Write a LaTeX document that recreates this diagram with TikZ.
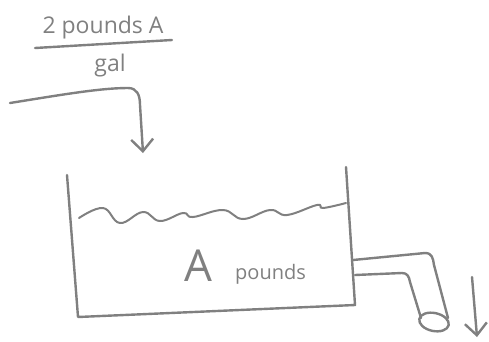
\documentclass[tikz,border=0pt]{standalone}
\usepackage{fontspec}
\setmainfont{Open Sans}
\usetikzlibrary{arrows.meta,positioning}
\definecolor{inkgray}{RGB}{128,128,128}

\begin{document}
\begin{tikzpicture}[x=1pt,y=-1pt,
	ink/.style={draw=inkgray,line width=2.4pt,line cap=round,line join=round},
	flow/.style={ink,-{Straight Barb[length=12pt,width=22pt]}},
	tag/.style={text=inkgray,inner sep=0pt,font=\fontsize{23}{26}\selectfont},
	smalltag/.style={tag,font=\fontsize{20}{24}\selectfont},
	bigtag/.style={text=inkgray,inner sep=0pt,font=\fontsize{44}{48}\selectfont},
	]
	\useasboundingbox (0,0) rectangle (489,341);
	% concentration of the inflow
	\node[tag,anchor=base] (rate) at (103,33) {2 pounds A};
	\draw[ink] (35,48) -- (172,40);
	\node[tag,anchor=base] (unit) at (110,71) {gal};
	% inflow
	\coordinate (in) at (10,103);
	\coordinate (drop) at (143,153);
	\draw[flow] (in) .. controls (60,95) and (100,88) .. (128,88)
		.. controls (137,88) and (140,95) .. (140,105) -- (drop);
	% tank and water level
	\draw[ink] (67,175) -- (78,317) -- (355,305) -- (346,167);
	\draw[ink,line width=2pt] plot[smooth,tension=0.7] coordinates {
		(79,218) (103,208) (120,223) (143,212) (160,221) (183,213) (193,217)
		(223,210) (243,219) (270,210) (287,215) (317,205) (323,208) (346,203)};
	\node[bigtag,anchor=base] (amount) at (198,281) {A};
	\node[smalltag,anchor=base west] (amountunit) at (235,279) {pounds};
	% outlet pipe
	\draw[ink] (353,260) -- (425,253) .. controls (432,253) and (433,258) .. (434,265) -- (448,318);
	\draw[ink] (355,275) -- (402,273) .. controls (407,273) and (409,276) .. (410,282) -- (421,318);
	\draw[ink] (434,322) ellipse [x radius=15, y radius=9, rotate=-12];
	% outflow
	\coordinate (out) at (472,277);
	\coordinate (sink) at (477,337);
	\draw[flow] (out) -- (sink);
\end{tikzpicture}
\end{document}
